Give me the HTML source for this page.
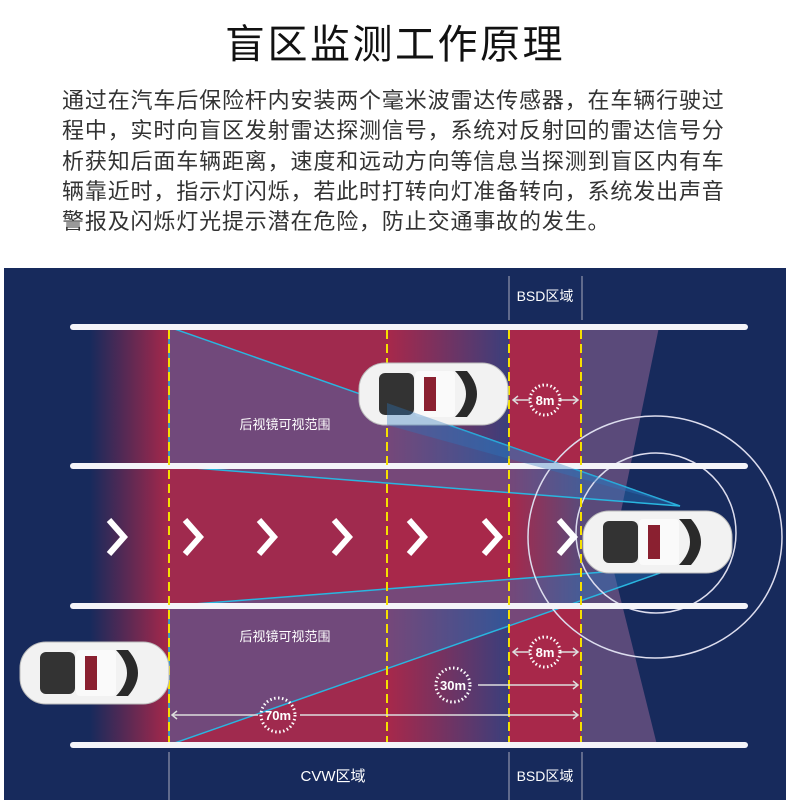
<!DOCTYPE html>
<html><head><meta charset="utf-8"><style>
body{margin:0;width:790px;height:808px;background:#fff;overflow:hidden;font-family:"Liberation Sans","Noto Sans CJK SC",sans-serif}
h1{position:absolute;top:12px;left:0;width:790px;text-align:center;margin:0;font-size:40px;font-weight:normal;color:#111;letter-spacing:2.5px;font-family:"Liberation Sans","Noto Sans CJK SC",sans-serif}
p{position:absolute;top:86px;left:62px;width:720px;margin:0;font-size:22px;line-height:30.3px;color:#333;white-space:nowrap;letter-spacing:0.85px}
svg{position:absolute;left:0;top:0}
</style></head><body>
<h1>盲区监测工作原理</h1>
<p>通过在汽车后保险杆内安装两个毫米波雷达传感器，在车辆行驶过<br>程中，实时向盲区发射雷达探测信号，系统对反射回的雷达信号分<br>析获知后面车辆距离，速度和远动方向等信息当探测到盲区内有车<br>辆靠近时，指示灯闪烁，若此时打转向灯准备转向，系统发出声音<br>警报及闪烁灯光提示潜在危险，防止交通事故的发生。</p>
<svg width="790" height="808" viewBox="0 0 790 808" font-family="Liberation Sans, Noto Sans CJK SC, sans-serif">
<defs>
<linearGradient id="fadeL" x1="0" x2="1"><stop offset="0" stop-color="#a8284a" stop-opacity="0"/><stop offset="1" stop-color="#a8284a"/></linearGradient>
<linearGradient id="rb" x1="0" x2="1"><stop offset="0" stop-color="#a8284a"/><stop offset="1" stop-color="#3a3f7c"/></linearGradient>
<linearGradient id="rp" x1="0" x2="1"><stop offset="0" stop-color="#a8284a"/><stop offset="1" stop-color="#5a4a7a"/></linearGradient>
<g id="car">
<rect x="0" y="0" width="149" height="62" rx="26" fill="#f2f2f2" stroke="#bbb"/>
<rect x="20" y="10" width="35" height="42" rx="6" fill="#333"/>
<rect x="56" y="8" width="40" height="46" rx="4" fill="#fafafa"/>
<rect x="65" y="14" width="12" height="34" fill="#8a2030"/>
<path d="M96,8 Q118,31 96,54 L108,54 Q128,31 108,8Z" fill="#2a2a2a"/>
</g>
</defs>
<rect x="4" y="268" width="782" height="532" fill="#172a5c"/>
<polygon points="581,327 659,327 611,560 657,745 581,745" fill="#5a4a7a"/>
<rect x="90" y="327" width="80" height="418" fill="url(#fadeL)"/>
<rect x="169" y="327" width="218" height="418" fill="#a02a4e"/>
<rect x="387" y="327" width="122" height="139" fill="url(#rb)"/>
<rect x="387" y="606" width="122" height="139" fill="url(#rb)"/>
<rect x="387" y="466" width="122" height="140" fill="#a8284a"/>
<rect x="509" y="466" width="72" height="140" fill="url(#rp)"/>
<rect x="509" y="327" width="72" height="139" fill="#a8284a"/>
<rect x="509" y="606" width="72" height="139" fill="#a8284a"/>
<polygon points="680,506 169,327 169,466" fill="#2a78c0" fill-opacity="0.4" stroke="#29b6e0" stroke-width="1.5"/>
<polygon points="680,566 169,606 169,745" fill="#2a78c0" fill-opacity="0.4" stroke="#29b6e0" stroke-width="1.5"/>
<ellipse cx="655" cy="537" rx="127" ry="121" fill="none" stroke="#dde" stroke-width="1.5"/>
<ellipse cx="656" cy="533" rx="80" ry="80" fill="none" stroke="#dde" stroke-width="1.5"/>
<g fill="#f4f4f8"><rect x="70" y="324" width="678" height="6" rx="3"/><rect x="70" y="463" width="678" height="6" rx="3"/><rect x="70" y="603" width="678" height="6" rx="3"/><rect x="70" y="742" width="678" height="6" rx="3"/></g>
<g stroke="#f5e000" stroke-width="2" stroke-dasharray="9,5"><line x1="169" y1="330" x2="169" y2="742"/><line x1="387" y1="330" x2="387" y2="742"/><line x1="509" y1="330" x2="509" y2="742"/><line x1="581" y1="330" x2="581" y2="742"/></g>
<g stroke="#aab" stroke-width="1"><line x1="509" y1="276" x2="509" y2="320"/><line x1="582" y1="276" x2="582" y2="320"/><line x1="509" y1="752" x2="509" y2="800"/><line x1="582" y1="752" x2="582" y2="800"/><line x1="169" y1="752" x2="169" y2="800"/></g>
<g fill="#fff" font-size="14"><text x="545" y="301" text-anchor="middle">BSD区域</text><text x="545" y="781" text-anchor="middle">BSD区域</text><text x="333" y="781" text-anchor="middle" font-size="15">CVW区域</text>
<text x="285" y="429" text-anchor="middle" font-size="13">后视镜可视范围</text><text x="285" y="641" text-anchor="middle" font-size="13">后视镜可视范围</text></g>
<g fill="none" stroke="#fff" stroke-width="6"><path d="M109,520 L124,537 L109,554"/><path d="M185,520 L200,537 L185,554"/><path d="M259,520 L274,537 L259,554"/><path d="M334,520 L349,537 L334,554"/><path d="M409,520 L424,537 L409,554"/><path d="M484,520 L499,537 L484,554"/><path d="M559,520 L574,537 L559,554"/></g>
<g stroke="#ddd" stroke-width="1.5" fill="none"><line x1="513" y1="400" x2="530" y2="400"/><line x1="560" y1="400" x2="578" y2="400"/><line x1="513" y1="652" x2="530" y2="652"/><line x1="560" y1="652" x2="578" y2="652"/><line x1="478" y1="685" x2="578" y2="685"/><line x1="172" y1="715" x2="258" y2="715"/><line x1="300" y1="715" x2="578" y2="715"/>
<path d="M518,396 L513,400 L518,404 M573,396 L578,400 L573,404 M518,648 L513,652 L518,656 M573,648 L578,652 L573,656 M573,681 L578,685 L573,689 M177,711 L172,715 L177,719 M573,711 L578,715 L573,719"/></g>
<g fill="none" stroke="#fff" stroke-width="3" stroke-dasharray="1.5,2.5"><circle cx="545" cy="400" r="15"/><circle cx="545" cy="652" r="15"/><circle cx="453" cy="685" r="17"/><circle cx="278" cy="715" r="17"/></g>
<g fill="#fff" font-size="13" font-weight="bold" text-anchor="middle"><text x="545" y="405">8m</text><text x="545" y="657">8m</text><text x="453" y="690">30m</text><text x="278" y="720">70m</text></g>
<use href="#car" x="583" y="511"/>
<use href="#car" x="359" y="363"/>
<use href="#car" x="20" y="642"/>
<polygon points="680,506 387,403 387,425" fill="#2a78c0" fill-opacity="0.35"/>
</svg>
</body></html>
